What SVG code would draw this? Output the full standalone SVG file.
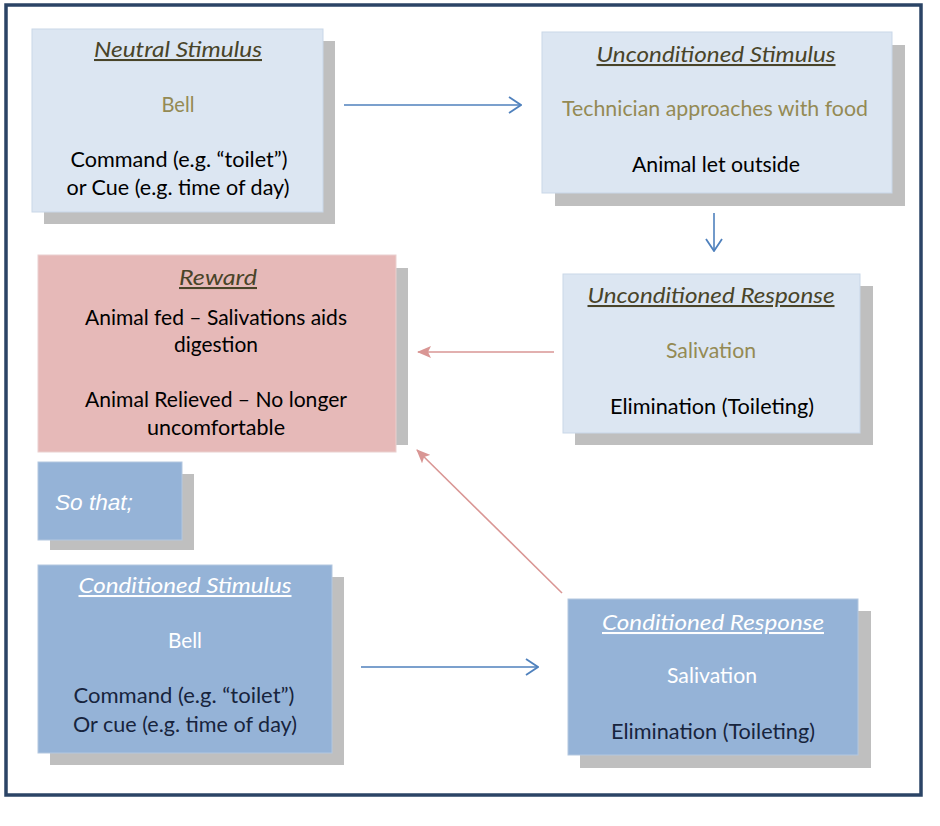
<svg xmlns="http://www.w3.org/2000/svg" width="940" height="826" viewBox="0 0 940 826">
<defs>
<style>
.sh{fill:#bfbfbf}
.lb{fill:#dce6f2;stroke:#c9d7e8;stroke-width:1}
.mb{fill:#95b3d7;stroke:#b3c7df;stroke-width:1}
.rb{fill:#e6b9b8;stroke:#ead0cf;stroke-width:1}
text{font-family:Lato,"Open Sans","Liberation Sans",sans-serif;font-size:20.5px;text-anchor:middle}
.t{font-style:italic;text-decoration:underline}
.tb{fill:#494429}
.ol{fill:#948a54}
.bk{fill:#000}
.wh{fill:#ffffff}
.nv{fill:#17243d}
.bl{stroke:#4f81bd;stroke-width:1.6;fill:none}
.pk{stroke:#d99694;stroke-width:1.6;fill:none}
</style>
<marker id="ob" viewBox="0 0 14 18" refX="13" refY="9" markerWidth="14" markerHeight="18" markerUnits="userSpaceOnUse" orient="auto">
<path d="M1,1 L13,9 L1,17" fill="none" stroke="#4f81bd" stroke-width="1.8"/>
</marker>
<marker id="fp" viewBox="0 0 14 12" refX="13" refY="6" markerWidth="14" markerHeight="12" markerUnits="userSpaceOnUse" orient="auto">
<path d="M0,0 L14,6 L0,12 L3,6 Z" fill="#d99694"/>
</marker>
</defs>
<rect x="0" y="0" width="940" height="826" fill="#ffffff"/>
<rect x="6" y="5" width="915" height="790" fill="none" stroke="#2b4466" stroke-width="3.5"/>

<g id="connectors">
<line class="bl" x1="344" y1="105" x2="521" y2="105" marker-end="url(#ob)"/>
<line class="bl" x1="714" y1="213" x2="714" y2="251" marker-end="url(#ob)"/>
<line class="pk" x1="554" y1="352" x2="418" y2="352" marker-end="url(#fp)"/>
<line class="pk" x1="562" y1="593" x2="417" y2="450" marker-end="url(#fp)"/>
<line class="bl" x1="361" y1="667" x2="538" y2="667" marker-end="url(#ob)"/>
</g>

<g id="neutral-stimulus">
<rect class="sh" x="44" y="41" width="291" height="183"/>
<rect class="lb" x="32" y="29" width="291" height="183"/>
<text class="t tb" x="178" y="57" textLength="168" lengthAdjust="spacingAndGlyphs">Neutral Stimulus</text>
<text class="ol" x="178" y="112" textLength="33" lengthAdjust="spacingAndGlyphs">Bell</text>
<text class="bk" x="179" y="167" textLength="217" lengthAdjust="spacingAndGlyphs">Command (e.g. “toilet”)</text>
<text class="bk" x="178" y="195" textLength="223" lengthAdjust="spacingAndGlyphs">or Cue (e.g. time of day)</text>
</g>

<g id="unconditioned-stimulus">
<rect class="sh" x="555" y="45" width="350" height="161"/>
<rect class="lb" x="542" y="32" width="350" height="161"/>
<text class="t tb" x="716" y="62" textLength="239" lengthAdjust="spacingAndGlyphs">Unconditioned Stimulus</text>
<text class="ol" x="715" y="116" textLength="306" lengthAdjust="spacingAndGlyphs">Technician approaches with food</text>
<text class="bk" x="716" y="172" textLength="168" lengthAdjust="spacingAndGlyphs">Animal let outside</text>
</g>

<g id="reward">
<rect class="sh" x="52" y="268" width="356" height="177"/>
<rect class="rb" x="38" y="255" width="358" height="197"/>
<text class="t tb" x="218" y="285" textLength="78" lengthAdjust="spacingAndGlyphs">Reward</text>
<text class="bk" x="216" y="325" textLength="262" lengthAdjust="spacingAndGlyphs">Animal fed – Salivations aids</text>
<text class="bk" x="216" y="352" textLength="84" lengthAdjust="spacingAndGlyphs">digestion</text>
<text class="bk" x="216" y="407" textLength="262" lengthAdjust="spacingAndGlyphs">Animal Relieved – No longer</text>
<text class="bk" x="216" y="435" textLength="138" lengthAdjust="spacingAndGlyphs">uncomfortable</text>
</g>

<g id="so-that">
<rect class="sh" x="50" y="474" width="144" height="76"/>
<rect class="mb" x="38" y="462" width="144" height="78"/>
<text class="wh" x="55" y="510" style="font-family:'Liberation Sans',Arial,sans-serif;font-style:italic;font-size:22.6px;text-anchor:start">So that;</text>
</g>

<g id="unconditioned-response">
<rect class="sh" x="575" y="286" width="298" height="159"/>
<rect class="lb" x="563" y="274" width="297" height="159"/>
<text class="t tb" x="711" y="303" textLength="247" lengthAdjust="spacingAndGlyphs">Unconditioned Response</text>
<text class="ol" x="711" y="358" textLength="90" lengthAdjust="spacingAndGlyphs">Salivation</text>
<text class="bk" x="712" y="414" textLength="204" lengthAdjust="spacingAndGlyphs">Elimination (Toileting)</text>
</g>

<g id="conditioned-stimulus">
<rect class="sh" x="50" y="577" width="294" height="188"/>
<rect class="mb" x="38" y="565" width="294" height="188"/>
<text class="t wh" x="185" y="593" textLength="213" lengthAdjust="spacingAndGlyphs">Conditioned Stimulus</text>
<text class="wh" x="185" y="648" textLength="34" lengthAdjust="spacingAndGlyphs">Bell</text>
<text class="nv" x="184" y="703" textLength="221" lengthAdjust="spacingAndGlyphs">Command (e.g. “toilet”)</text>
<text class="nv" x="185" y="732" textLength="224" lengthAdjust="spacingAndGlyphs">Or cue (e.g. time of day)</text>
</g>

<g id="conditioned-response">
<rect class="sh" x="580" y="611" width="291" height="157"/>
<rect class="mb" x="568" y="599" width="290" height="156"/>
<text class="t wh" x="713" y="630" textLength="222" lengthAdjust="spacingAndGlyphs">Conditioned Response</text>
<text class="wh" x="712" y="683" textLength="90" lengthAdjust="spacingAndGlyphs">Salivation</text>
<text class="nv" x="713" y="739" textLength="204" lengthAdjust="spacingAndGlyphs">Elimination (Toileting)</text>
</g>
</svg>
